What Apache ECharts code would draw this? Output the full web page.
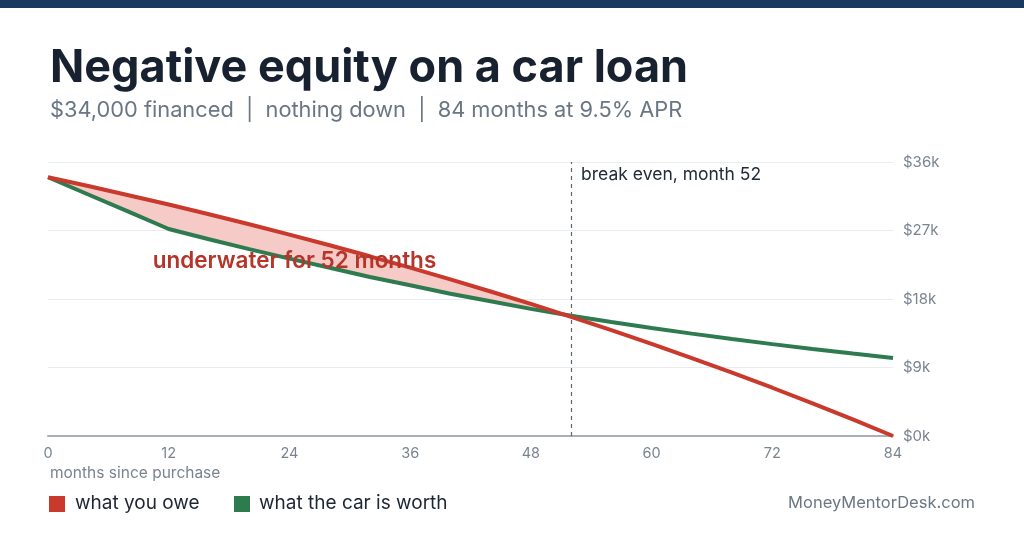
<!DOCTYPE html>
<html>
<head>
<meta charset="utf-8">
<script src="https://cdn.jsdelivr.net/npm/echarts@6/dist/echarts.min.js"></script>
<style>
  html, body { margin: 0; padding: 0; background: #ffffff; }
  #chart { width: 1024px; height: 538px; }
</style>
</head>
<body>
<div id="chart"></div>
<script>
// months since purchase
var months = [0, 4, 8, 12, 16, 20, 24, 28, 32, 36, 40, 44, 48, 52, 56, 60, 64, 68, 72, 76, 80, 84];
// loan balance, what you owe
var owed = [34000, 32840, 31640, 30410, 29130, 27820, 26460, 25060, 23610, 22120, 20580, 18990,
            17350, 15650, 13910, 12100, 10240, 8320, 6340, 4290, 2180, 0];
// what the car is worth
var worth = [34000, 31730, 29470, 27200, 25850, 24550, 23300, 22100, 20900, 19800, 18700, 17700,
             16700, 15800, 14990, 14200, 13450, 12740, 12070, 11430, 10830, 10260];
var breakEven = 52;
var yTicks = [0, 9000, 18000, 27000, 36000];

var font = 'Inter, "Noto Sans", sans-serif';

function pairs(ys) {
	return months.map(function (m, i) { return [m, ys[i]]; });
}

// the pink gap between the two lines, up to break even
var gapData = [];
for (var i = 0; i < months.length; i++) {
	if (months[i] <= breakEven) gapData.push([months[i], owed[i], worth[i]]);
}

function renderGap(params, api) {
	if (params.dataIndex !== 0) return;
	var top = [], bottom = [];
	for (var k = 0; k < gapData.length; k++) {
		top.push(api.coord([gapData[k][0], gapData[k][1]]));
		bottom.unshift(api.coord([gapData[k][0], gapData[k][2]]));
	}
	return {
		type: 'polygon',
		shape: { points: top.concat(bottom) },
		style: { fill: '#f6cbc7' }
	};
}

var chart = echarts.init(document.getElementById('chart'), null, { renderer: 'canvas' });
chart.setOption({
	backgroundColor: '#ffffff',
	animation: false,
	graphic: [
		{ type: 'rect', left: 0, top: 0, shape: { width: 1024, height: 8 }, style: { fill: '#173a5e' } },
		{ type: 'text', left: 50, top: 46, style: { text: 'Negative equity on a car loan', font: '700 45px ' + font, fill: '#17212f' } },
		{ type: 'text', left: 50, top: 99, style: { text: '$34,000 financed  |  nothing down  |  84 months at 9.5% APR', font: '400 21.8px ' + font, fill: '#6b7684' } },
		{ type: 'text', left: 50, top: 465, style: { text: 'months since purchase', font: '400 15.5px ' + font, fill: '#7a8491' } },
		{ type: 'rect', left: 49, top: 496, shape: { width: 16, height: 16 }, style: { fill: '#c9392c' } },
		{ type: 'text', left: 75, top: 494, style: { text: 'what you owe', font: '400 19px ' + font, fill: '#1e2633' } },
		{ type: 'rect', left: 234, top: 496, shape: { width: 16, height: 16 }, style: { fill: '#2e7b4f' } },
		{ type: 'text', left: 259, top: 494, style: { text: 'what the car is worth', font: '400 19px ' + font, fill: '#1e2633' } },
		{ type: 'text', right: 49, top: 495, style: { text: 'MoneyMentorDesk.com', font: '400 16.5px ' + font, fill: '#6b7684' } }
	],
	grid: { left: 48, right: 131, top: 162, bottom: 102 },
	xAxis: {
		type: 'value', min: 0, max: 84, interval: 12,
		axisLine: { show: true, lineStyle: { color: '#a8afb9', width: 2 } },
		axisTick: { show: false },
		splitLine: { show: false },
		axisLabel: { color: '#7a8491', fontSize: 14.5, fontFamily: font, margin: 10 }
	},
	yAxis: {
		type: 'value', position: 'right', min: yTicks[0], max: yTicks[yTicks.length - 1], interval: 9000,
		axisLine: { show: false }, axisTick: { show: false },
		splitLine: { lineStyle: { color: '#e8ebef', width: 1 } },
		axisLabel: { color: '#7a8491', fontSize: 15, fontFamily: font, margin: 10,
			formatter: function (v) { return '$' + (v / 1000) + 'k'; } }
	},
	series: [
		{
			name: 'gap', type: 'custom', data: gapData, renderItem: renderGap, silent: true, z: 1,
			encode: { x: 0, y: [1, 2] }
		},
		{
			name: 'what the car is worth', type: 'line', data: pairs(worth), symbol: 'none',
			lineStyle: { color: '#2e7b4f', width: 4 }, z: 3
		},
		{
			name: 'what you owe', type: 'line', data: pairs(owed), symbol: 'none',
			lineStyle: { color: '#c9392c', width: 4 }, z: 4,
			markLine: {
				silent: true, symbol: 'none',
				lineStyle: { color: '#5b6573', type: [4, 4], width: 1.2 },
				label: { show: false },
				data: [{ xAxis: breakEven }]
			},
			markPoint: {
				symbol: 'circle', symbolSize: 0,
				data: [
					{ coord: [24.5, 23000], label: { show: true, formatter: 'underwater for 52 months', color: '#b5352a', fontSize: 22.5, fontWeight: 600, fontFamily: font } },
					{ coord: [breakEven, 36000], label: { show: true, position: 'right', align: 'left', offset: [5, 13], formatter: 'break even, month 52', color: '#222b38', fontSize: 17.5, fontFamily: font } }
				]
			}
		}
	]
});
</script>
</body>
</html>
